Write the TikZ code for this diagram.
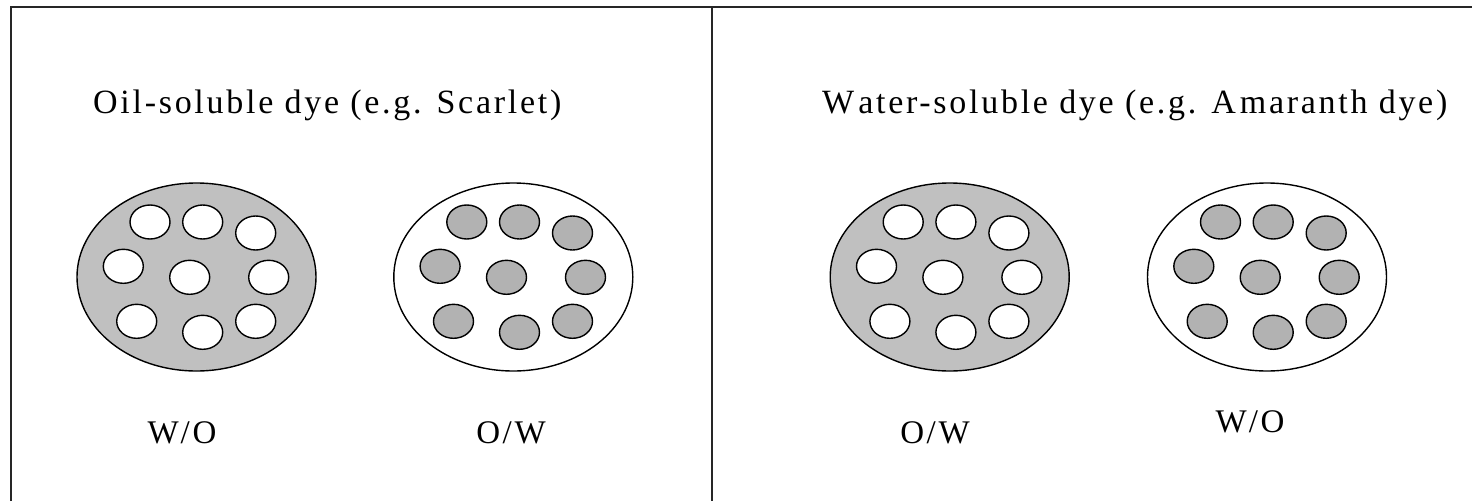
\documentclass[tikz,border=0pt]{standalone}
\usepackage{fontspec}
\setmainfont{Liberation Serif}
\newfontfamily\lsfont[LetterSpace=8]{Liberation Serif}
\usetikzlibrary{shapes.geometric,calc}
\definecolor{oilgrey}{RGB}{192,192,192}
\definecolor{dropgrey}{RGB}{178,178,178}
\tikzset{
  frameline/.style={draw=black!85, line width=1.6pt},
  bigdrop/.style={ellipse, draw=black, line width=1.4pt, minimum width=239pt, minimum height=188pt, inner sep=0pt},
  smalldrop/.style={ellipse, draw=black, line width=1.4pt, minimum width=40pt, minimum height=34pt, inner sep=0pt},
  greyfill/.style={fill=oilgrey},
  whitefill/.style={fill=white},
  dropfill/.style={fill=dropgrey},
  titletext/.style={font=\lsfont\fontsize{34}{40}\selectfont, anchor=base west, inner sep=0pt},
  labeltext/.style={font=\lsfont\fontsize{33}{40}\selectfont, anchor=base, inner sep=0pt}
}
\newcommand{\dropset}[3]{%
  \node[smalldrop,#3] (#1a) at ($(#2)+(-46.5,-55)$) {};
  \node[smalldrop,#3] (#1b) at ($(#2)+(6.2,-55)$) {};
  \node[smalldrop,#3] (#1c) at ($(#2)+(59.2,-44)$) {};
  \node[smalldrop,#3] (#1d) at ($(#2)+(-73.2,-10.7)$) {};
  \node[smalldrop,#3] (#1e) at ($(#2)+(-6.8,0.3)$) {};
  \node[smalldrop,#3] (#1f) at ($(#2)+(72.2,0.3)$) {};
  \node[smalldrop,#3] (#1g) at ($(#2)+(-59.8,44.3)$) {};
  \node[smalldrop,#3] (#1h) at ($(#2)+(6.2,55.3)$) {};
  \node[smalldrop,#3] (#1i) at ($(#2)+(59.2,44.3)$) {};
}
\begin{document}
\begin{tikzpicture}[x=1pt,y=-1pt]
\useasboundingbox[fill=white] (0,0) rectangle (1472,501);
% frame
\coordinate (fbl) at (11,501);
\coordinate (ftl) at (11,7);
\coordinate (ftr) at (1472,7);
\coordinate (dtop) at (712,7);
\coordinate (dbot) at (712,501);
\draw[frameline] (fbl) -- (ftl) -- (ftr);
\draw[frameline] (dtop) -- (dbot);
% titles
\node[titletext] (t1) at (93,113) {Oil-soluble dye (e.g. Scarlet)};
\node[titletext] (t2) at (822,113) {W\kern4pt ater-soluble dye (e.g. A\kern4pt maranth dye)};
% big drops
\node[bigdrop,greyfill] (e1) at (196.5,277) {};
\node[bigdrop,whitefill] (e2) at (513.3,277) {};
\node[bigdrop,greyfill] (e3) at (949.7,277) {};
\node[bigdrop,whitefill] (e4) at (1267,277) {};
\dropset{pa}{e1}{whitefill}
\dropset{pb}{e2}{dropfill}
\dropset{pc}{e3}{whitefill}
\dropset{pd}{e4}{dropfill}
% labels
\node[labeltext] (l1) at (182,443) {W\kern2pt/O};
\node[labeltext] (l2) at (511,443) {O/W};
\node[labeltext] (l3) at (935,443) {O/W};
\node[labeltext] (l4) at (1250,432) {W\kern2pt/O};
\end{tikzpicture}
\end{document}
